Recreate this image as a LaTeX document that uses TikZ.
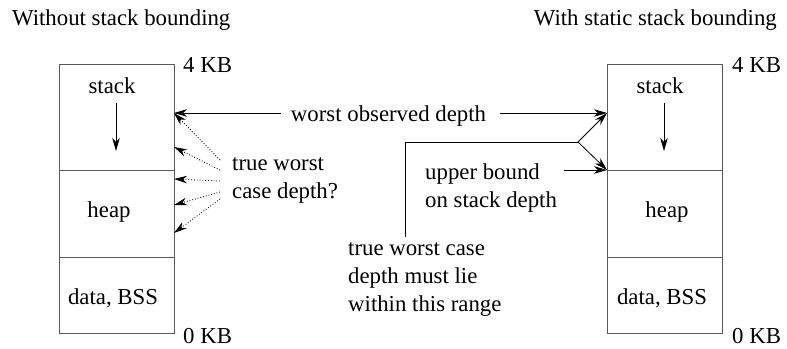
\documentclass[tikz,border=0pt]{standalone}
\usepackage{fontspec}
\setmainfont{Liberation Serif}
\usepackage{tikz}
\usetikzlibrary{arrows.meta, positioning, calc}
\definecolor{framegray}{HTML}{5A5A5A}

\begin{document}
\begin{tikzpicture}[x=1pt, y=1pt,
    % 1. Segmentos de memoria
    seg/.style={
        draw=framegray, line width=0.9pt,
        minimum width=115pt, inner sep=0pt, outer sep=0pt
    },
    % 2. Textos
    txt/.style={font=\fontsize{22.8}{28}\selectfont, inner sep=0pt},
    multi/.style={txt, align=left, anchor=base west},
    % 3. Flechas
    arrow/.style={
        -{Stealth[length=13pt, width=7.5pt, inset=4pt]},
        line width=0.8pt
    },
    guess/.style={arrow, dotted, line width=0.9pt}
]
    \useasboundingbox (0,0) rectangle (787,348);

    % --- SIN ACOTACION ---
    \node[txt, anchor=base west] (ltitle) at (12,322) {Without stack bounding};
    \node[seg, minimum height=106pt] (lstack) at (116.5,231) {};
    \node[seg, minimum height=87pt, below=0pt of lstack] (lheap) {};
    \node[seg, minimum height=76pt, below=0pt of lheap] (ldata) {};
    \node[txt, anchor=base] (lstacklbl) at (112,254) {stack};
    \node[txt, anchor=base] (lheaplbl) at (109,130) {heap};
    \node[txt, anchor=base] (ldatalbl) at (113,43) {data, BSS};
    \node[txt, anchor=base west] (ltop) at (183,275) {4 KB};
    \node[txt, anchor=base west] (lbot) at (183,5) {0 KB};

    \coordinate (lgrowA) at (116,245);
    \coordinate (lgrowB) at (116,197);
    \draw[arrow] (lgrowA) -- (lgrowB);

    \node[multi] (guesstxt) at (232,149) {true worst\\case depth?};
    \foreach \s/\e in {21/-49, 11/-83, 0/-115, -11/-141, -18/-169}
        \draw[guess] ($(guesstxt.west)+(-12,\s)$) -- ($(lstack.north east)+(0,\e)$);

    % --- PROFUNDIDAD OBSERVADA ---
    \node[txt, anchor=base] (worst) at (388.5,226) {worst observed depth};
    \coordinate (lobs) at (174,235);
    \coordinate (robs) at (607,235);
    \draw[arrow] ($(lobs -| worst.west)+(-10,0)$) -- (lobs);
    \draw[arrow] ($(robs -| worst.east)+(14,0)$) -- (robs);

    % --- CON ACOTACION ESTATICA ---
    \node[txt, anchor=base east] (rtitle) at (777,322) {With static stack bounding};
    \node[seg, minimum height=106pt] (rstack) at (664.5,231) {};
    \node[seg, minimum height=87pt, below=0pt of rstack] (rheap) {};
    \node[seg, minimum height=76pt, below=0pt of rheap] (rdata) {};
    \node[txt, anchor=base] (rstacklbl) at (660,254) {stack};
    \node[txt, anchor=base] (rheaplbl) at (667,130) {heap};
    \node[txt, anchor=base] (rdatalbl) at (662,43) {data, BSS};
    \node[txt, anchor=base west] (rtop) at (732,275) {4 KB};
    \node[txt, anchor=base west] (rbot) at (732,5) {0 KB};

    \coordinate (rgrowA) at (664,245);
    \coordinate (rgrowB) at (664,197);
    \draw[arrow] (rgrowA) -- (rgrowB);

    \node[multi] (boundtxt) at (425,140) {upper bound\\on stack depth};
    \coordinate (rbound) at (607,178);
    \draw[arrow] ($(rbound -| boundtxt.east)+(7,0)$) -- (rbound);

    \node[multi] (rangetxt) at (348,36) {true worst case\\depth must lie\\within this range};
    \coordinate (bend) at (405,206);
    \coordinate (fork) at (578,206);
    \draw[line width=0.8pt] ($(bend |- rangetxt.north)+(0,6)$) -- (bend) -- (fork);
    \draw[arrow] (fork) -- (robs);
    \draw[arrow] (fork) -- (rbound);

\end{tikzpicture}
\end{document}
